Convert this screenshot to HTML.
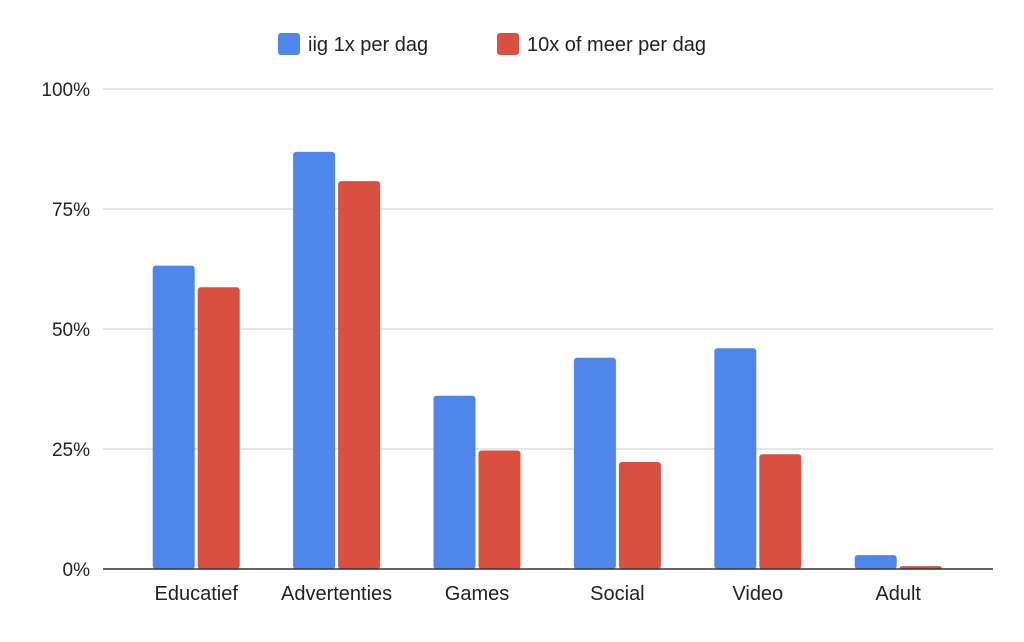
<!DOCTYPE html>
<html><head><meta charset="utf-8"><style>
body{margin:0;background:#fff;font-family:"Liberation Sans",Arial,sans-serif;}
</style></head><body>
<svg width="1024" height="637" xmlns="http://www.w3.org/2000/svg" style="font-family:'Liberation Sans',Arial,sans-serif">
<g id="legend">
<rect x="278" y="33" width="22" height="22" rx="3" fill="#4f86ec"/>
<text x="308" y="51" font-size="20" fill="#222">iig 1x per dag</text>
<rect x="497" y="33" width="22" height="22" rx="3" fill="#d95040"/>
<text x="527" y="51" font-size="20" fill="#222">10x of meer per dag</text>
</g>
<g id="grid"></g><g id="bars"></g><g id="xlabels"></g>
<line x1="103" y1="569" x2="993" y2="569" stroke="#333" stroke-width="1.5"/>
</svg>
<script>
const categories=["Educatief","Advertenties","Games","Social","Video","Adult"];
const seriesDaily=[63.2,86.9,36.1,44,46,2.9];
const seriesTenPlus=[58.7,80.8,24.7,22.3,23.9,0.6];
const tickValues=[0,25,50,75,100];
const tickLabels=["0%","25%","50%","75%","100%"];
const NS="http://www.w3.org/2000/svg";
const y=v=>569-v*4.8;
const band=i=>126+i*140.4;
function mk(t,a,p){const e=document.createElementNS(NS,t);for(const k in a)e.setAttribute(k,a[k]);p.appendChild(e);return e;}
const grid=document.getElementById('grid'),bars=document.getElementById('bars'),xl=document.getElementById('xlabels');
tickValues.forEach((v,i)=>{
 if(v>0){const l=mk('line',{x1:103,x2:993,y1:y(v),y2:y(v),stroke:'#ccc','stroke-width':1},grid);
 
 }
 const t=mk('text',{x:90,y:y(v)+7,'text-anchor':'end','font-size':19,fill:'#222'},grid);
 t.textContent=tickLabels[i];
 
 
});
categories.forEach((c,i)=>{
 const cx=band(i)+70.2;
 const b1=mk('rect',{x:cx-43.5,y:y(seriesDaily[i]),width:42,height:seriesDaily[i]*4.8,rx:3,fill:'#4f86ec'},bars);
 
 
 const b2=mk('rect',{x:cx+1.5,y:y(seriesTenPlus[i]),width:42,height:seriesTenPlus[i]*4.8,rx:3,fill:'#d95040'},bars);
 
 
 const t=mk('text',{x:cx,y:600,'text-anchor':'middle','font-size':20,fill:'#222'},xl);
 t.textContent=c;
 
 
});
</script>
</body></html>
